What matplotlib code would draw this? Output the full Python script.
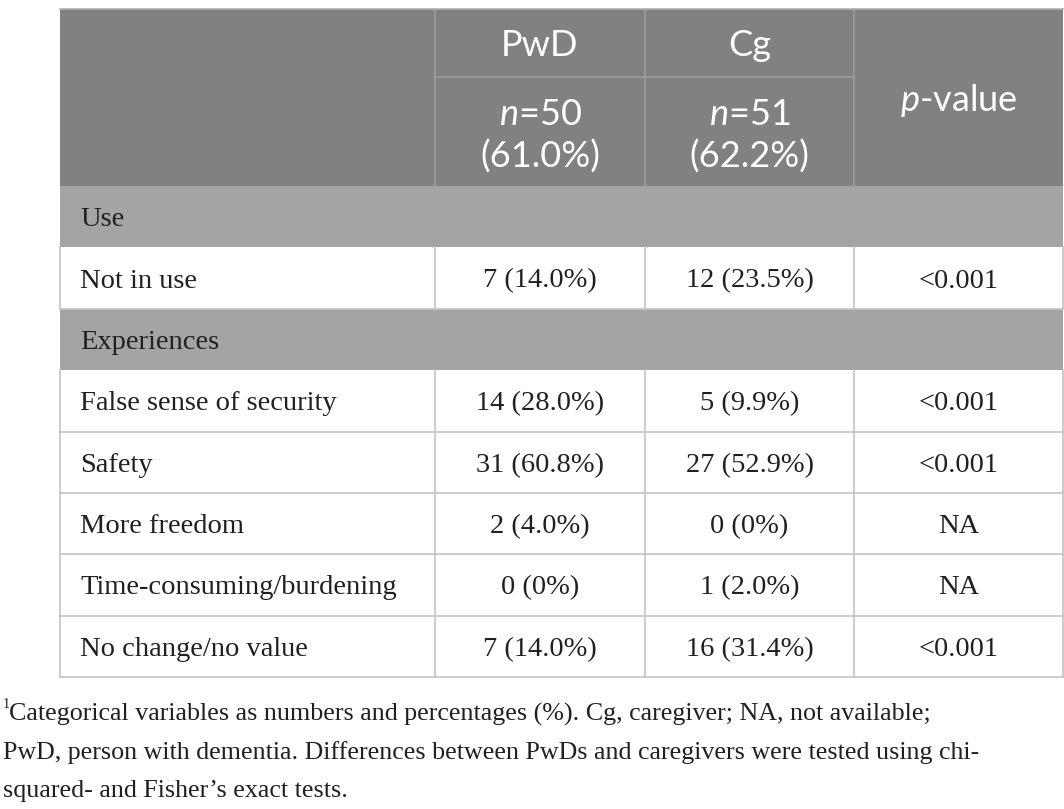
import matplotlib
matplotlib.use("Agg")
import matplotlib.pyplot as plt
from matplotlib.patches import Rectangle

plt.rcParams["mathtext.fontset"] = "custom"
plt.rcParams["mathtext.rm"] = "Lato"
plt.rcParams["mathtext.it"] = "Lato:italic"

# ---- data ----
col_groups = ["PwD", "Cg"]
col_n = ["50", "51"]
col_pct = ["(61.0%)", "(62.2%)"]
pcol_label = r"$\it{p}$-value"
sections = ["Use", "Experiences"]
rows = ["Not in use", "False sense of security", "Safety", "More freedom",
        "Time-consuming/burdening", "No change/no value"]
row_section = [0, 1, 1, 1, 1, 1]
pwd_vals = ["7 (14.0%)", "14 (28.0%)", "31 (60.8%)", "2 (4.0%)", "0 (0%)", "7 (14.0%)"]
cg_vals = ["12 (23.5%)", "5 (9.9%)", "27 (52.9%)", "0 (0%)", "1 (2.0%)", "16 (31.4%)"]
p_vals = ["<0.001", "<0.001", "<0.001", "NA", "NA", "<0.001"]
footnote = ["Categorical variables as numbers and percentages (%). Cg, caregiver; NA, not available;",
            "PwD, person with dementia. Differences between PwDs and caregivers were tested using chi-",
            "squared- and Fisher\u2019s exact tests."]

W, H = 1064, 809
fig = plt.figure(figsize=(W / 100, H / 100), dpi=100)
ax = fig.add_axes([0, 0, 1, 1])
ax.set_xlim(0, W)
ax.set_ylim(H, 0)
ax.axis("off")

HDR = "#808180"
SEC = "#a3a4a3"
HDR_LINE = "#9c9d9c"
BODY_LINE = "#c4c4c4"
TXT = "#231f20"
SANS = "Lato"
SERIF = "Liberation Serif"

x0, x1, x2, x3, x4 = 60, 435, 645, 854, 1063
top, hsplit, hbot = 9, 77, 186
rh = (677 - hbot) / 8.0

# header
ax.add_patch(Rectangle((x0, top), x4 - x0, hbot - top, facecolor=HDR, edgecolor="none"))
for x in (x1, x2, x3):
    ax.plot([x, x], [top, hbot], color=HDR_LINE, lw=1.2)
ax.plot([x1, x3], [hsplit, hsplit], color=HDR_LINE, lw=1.2)
ax.plot([x0, x4], [top, top], color="#b0b0b0", lw=1.2)

hs = 26
for i, (xa, xb) in enumerate([(x1, x2), (x2, x3)]):
    cx = (xa + xb) / 2
    ax.text(cx, (top + hsplit) / 2 + 2, col_groups[i], color="white", fontsize=hs,
            family=SANS, ha="center", va="center")
    ax.text(cx, 114, r"$\it{n}$" + "=" + col_n[i], color="white", fontsize=hs,
            family=SANS, ha="center", va="center")
    ax.text(cx, 157, col_pct[i], color="white", fontsize=hs, family=SANS,
            ha="center", va="center")
ax.text((x3 + x4) / 2, 100, pcol_label, color="white", fontsize=hs, family=SANS,
        ha="center", va="center")

# body rows
bs = 20.5
y = hbot
order = []
for s in range(len(sections)):
    order.append(("sec", s))
    for r in range(len(rows)):
        if row_section[r] == s:
            order.append(("row", r))

for kind, idx in order:
    yc = y + rh / 2 + 3
    if kind == "sec":
        ax.add_patch(Rectangle((x0, y), x4 - x0, rh, facecolor=SEC, edgecolor="none"))
        ax.text(80, yc, sections[idx], fontsize=bs, family=SERIF, color=TXT,
                ha="left", va="center")
    else:
        ax.add_patch(Rectangle((x0, y), x4 - x0, rh, facecolor="white", edgecolor="none"))
        for x in (x0, x1, x2, x3, x4):
            ax.plot([x, x], [y, y + rh], color=BODY_LINE, lw=1.2)
        ax.plot([x0, x4], [y + rh, y + rh], color=BODY_LINE, lw=1.2)
        ax.text(80, yc, rows[idx], fontsize=bs, family=SERIF, color=TXT, ha="left", va="center")
        ax.text((x1 + x2) / 2, yc, pwd_vals[idx], fontsize=bs, family=SERIF, color=TXT,
                ha="center", va="center")
        ax.text((x2 + x3) / 2, yc, cg_vals[idx], fontsize=bs, family=SERIF, color=TXT,
                ha="center", va="center")
        ax.text((x3 + x4) / 2, yc, p_vals[idx], fontsize=bs, family=SERIF, color=TXT,
                ha="center", va="center")
    y += rh

# footnote
fs = 18.7
fy = [714, 753, 791]
ax.text(3, fy[0] - 9, "1", fontsize=10, family=SERIF, color=TXT, ha="left", va="center")
ax.text(9, fy[0], footnote[0], fontsize=fs, family=SERIF, color=TXT, ha="left", va="center")
ax.text(3, fy[1], footnote[1], fontsize=fs, family=SERIF, color=TXT, ha="left", va="center")
ax.text(3, fy[2], footnote[2], fontsize=fs, family=SERIF, color=TXT, ha="left", va="center")

fig.savefig("out.png", dpi=100)
